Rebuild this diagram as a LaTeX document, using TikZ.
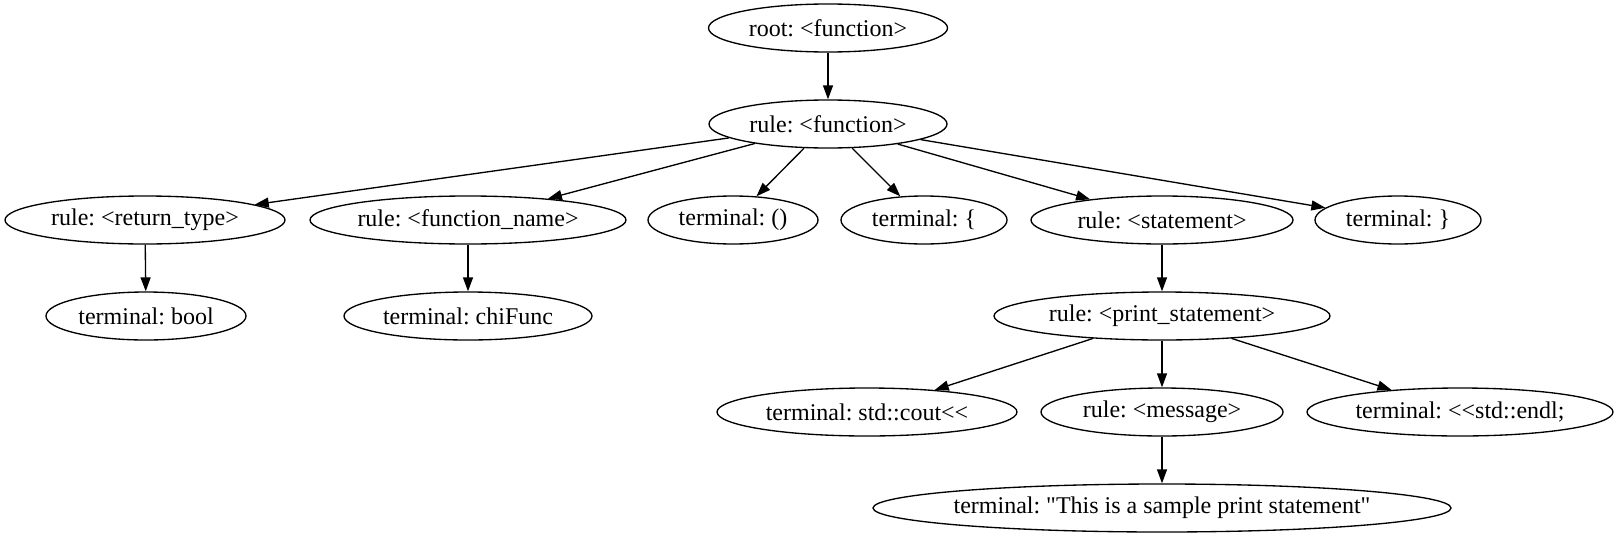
\documentclass[tikz,border=0pt]{standalone}
\usepackage{fontspec}
\setmainfont{Liberation Serif}
\usetikzlibrary{shapes.geometric,arrows.meta}
\frenchspacing
\font\gvq="Liberation Serif" at 18pt
\newcommand\sq{{\gvq\char34}}
\newcommand\gvnode[5]{\node[gv,minimum width=#4pt] (#1) at (#2,#3) {\makebox[0pt]{#5}};}
\begin{document}
\begin{tikzpicture}[x=0.75pt,y=-0.75pt,
  gv/.style={ellipse,draw,line width=1pt,inner sep=0pt,minimum height=36pt,font=\fontsize{18}{21}\selectfont},
  ed/.style={draw,line width=1pt,-{Triangle[length=10.5pt,width=7.5pt]}}]
\useasboundingbox (0,0) rectangle (1619,539);
\gvnode{root}{828}{28}{179.25}{root: <function>}
\gvnode{func}{828}{124}{178.5}{rule: <function>}
\gvnode{rt}{145}{220}{210}{rule: <return\_type>}
\gvnode{fn}{468}{220}{237}{rule: <function\_name>}
\gvnode{par}{733}{220}{127.5}{terminal: ()}
\gvnode{lb}{924}{220}{124.5}{terminal: \{}
\gvnode{st}{1162}{220}{196.5}{rule: <statement>}
\gvnode{rb}{1398}{220}{124.5}{terminal: \}}
\gvnode{bool}{146}{316}{150}{terminal: bool}
\gvnode{chi}{468}{316}{186}{terminal: chiFunc}
\gvnode{ps}{1162}{316}{252}{rule: <print\_statement>}
\gvnode{cout}{867}{412}{225}{terminal: std::cout<{}<}
\gvnode{msg}{1162}{412}{181.5}{rule: <message>}
\gvnode{endl}{1460}{412}{229.5}{terminal: <{}<std::endl;}
\gvnode{str}{1162}{508}{433.5}{terminal: \sq This is a sample print statement\sq}
\draw[ed] (root) -- (func);
\draw[ed] (func) -- (rt);
\draw[ed] (func) -- (fn);
\draw[ed] (func) -- (par);
\draw[ed] (func) -- (lb);
\draw[ed] (func) -- (st);
\draw[ed] (func) -- (rb);
\draw[ed] (rt) -- (bool);
\draw[ed] (fn) -- (chi);
\draw[ed] (st) -- (ps);
\draw[ed] (ps) -- (cout);
\draw[ed] (ps) -- (msg);
\draw[ed] (ps) -- (endl);
\draw[ed] (msg) -- (str);
\end{tikzpicture}
\end{document}
